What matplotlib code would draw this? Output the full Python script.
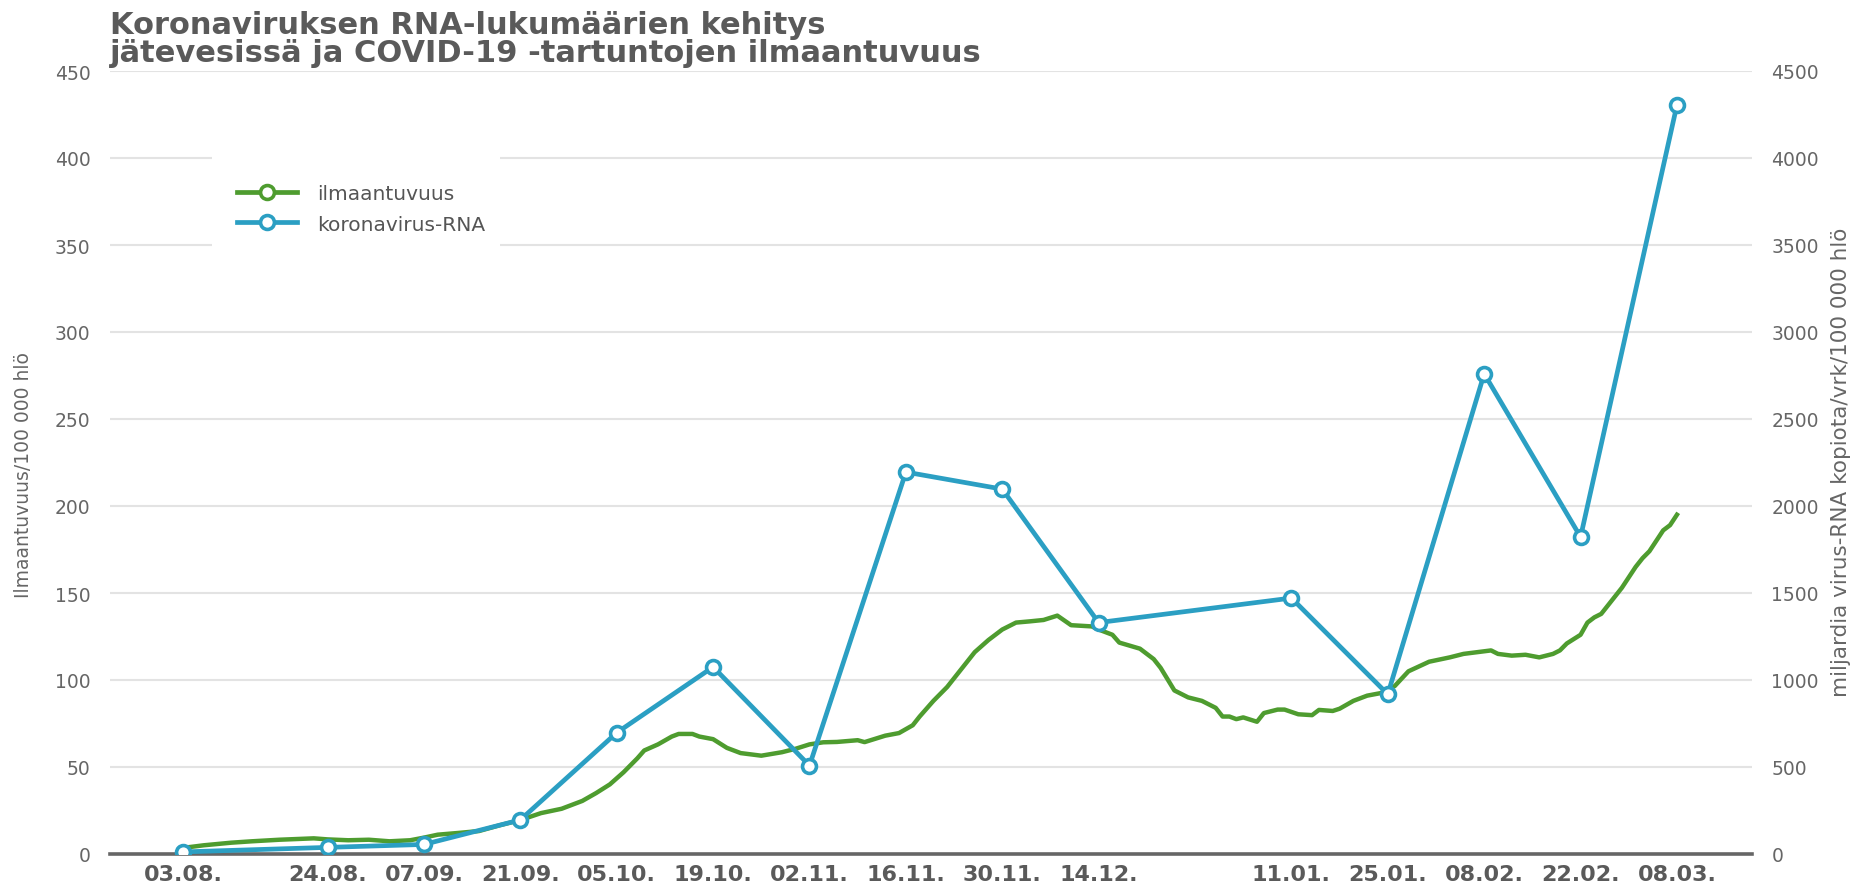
import matplotlib
matplotlib.use("Agg")
import matplotlib.pyplot as plt
from matplotlib.lines import Line2D
from matplotlib.patches import Rectangle
import pandas as pd

# ---------------- data ----------------
rna_dates = ["2020-08-03", "2020-08-24", "2020-09-07", "2020-09-21", "2020-10-05",
             "2020-10-19", "2020-11-02", "2020-11-16", "2020-11-30", "2020-12-14",
             "2021-01-11", "2021-01-25", "2021-02-08", "2021-02-22", "2021-03-08"]
rna_values = [12, 38, 55, 196, 697, 1075, 508, 2195, 2097, 1330, 1471, 918, 2760, 1822, 4305]

ilm_days = [0, 3, 7, 10, 14, 19, 21, 24, 27, 30, 33, 35, 37, 40, 43, 46, 49, 52, 55, 58,
            60, 62, 64, 66, 67, 69, 71, 72, 74, 75, 77, 79, 81, 84, 87, 89, 91, 93, 95, 98,
            99, 102, 104, 106, 107, 109, 111, 113, 115, 117, 119, 121, 123, 125, 127, 129,
            132, 133, 135, 136, 139, 141, 142, 144, 146, 148, 150, 151, 152, 153, 154, 156,
            157, 159, 160, 162, 164, 165, 167, 168, 170, 172, 174, 176, 178, 181, 184, 186,
            188, 190, 191, 193, 195, 197, 199, 200, 201, 203, 204, 205, 206, 207, 208, 209,
            211, 212, 213, 214, 215, 216, 217]
ilm_values = [3.5, 5, 6.5, 7.3, 8.2, 9.0, 8.4, 7.9, 8.2, 7.3, 7.9, 9.4, 11.1, 12.1, 13.2, 16.5,
              19.5, 23.5, 26, 30.5, 35, 40, 47, 55, 59.5, 63, 67.5, 69, 69, 67.5, 66, 61, 58,
              56.5, 58.5, 60.5, 63, 64.2, 64.4, 65.4, 64.3, 68, 69.5, 74, 79, 88, 96, 106, 116,
              123, 129, 133, 133.7, 134.5, 137, 131.5, 130.8, 129, 126, 121.5, 118, 112, 107,
              94, 90, 88, 84, 79, 79, 77.5, 78.5, 76, 81, 83, 83, 80.3, 79.8, 82.8, 82.2, 83.5,
              88, 91, 92.5, 96.5, 105, 110.5, 113, 115, 116, 117, 115, 114, 114.5, 113, 115,
              117, 121, 126, 133, 136, 138, 143, 148, 153, 165, 170, 174, 180, 186, 189, 195]
ilm_start = "2020-08-03"

tick_dates = ["2020-08-03", "2020-08-24", "2020-09-07", "2020-09-21", "2020-10-05",
              "2020-10-19", "2020-11-02", "2020-11-16", "2020-11-30", "2020-12-14",
              "2021-01-11", "2021-01-25", "2021-02-08", "2021-02-22", "2021-03-08"]
tick_labels = ["03.08.", "24.08.", "07.09.", "21.09.", "05.10.", "19.10.", "02.11.",
               "16.11.", "30.11.", "14.12.", "11.01.", "25.01.", "08.02.", "22.02.", "08.03."]

left_ticks = [0, 50, 100, 150, 200, 250, 300, 350, 400, 450]
right_ticks = [0, 500, 1000, 1500, 2000, 2500, 3000, 3500, 4000, 4500]

title = "Koronaviruksen RNA-lukumäärien kehitys\njätevesissä ja COVID-19 -tartuntojen ilmaantuvuus"
ylabel_left = "Ilmaantuvuus/100 000 hlö"
ylabel_right = "miljardia virus-RNA kopiota/vrk/100 000 hlö"
legend_labels = ["ilmaantuvuus", "koronavirus-RNA"]

# ---------------- style ----------------
GREEN = "#4e9c2f"
BLUE = "#2b9fc3"
GRID = "#e3e3e3"
TXT = "#666666"
DARK = "#5a5a5a"

plt.rcParams['font.family'] = ['DejaVu Sans']

W, H = 1856, 887
AX_L, AX_R, AX_B, AX_T = 110, 1752, 855, 72
fig = plt.figure(figsize=(W / 100, H / 100), dpi=100)
ax = fig.add_axes([AX_L / W, (H - AX_B) / H, (AX_R - AX_L) / W, (AX_B - AX_T) / H])
ax2 = ax.twinx()


def ax_x(px):
    return (px - AX_L) / (AX_R - AX_L)


def ax_y(py):
    return (AX_B - py) / (AX_B - AX_T)


ilm_x = pd.Timestamp(ilm_start) + pd.to_timedelta(ilm_days, unit="D")
rna_x = pd.to_datetime(rna_dates)

ax.plot(ilm_x, ilm_values, color=GREEN, lw=3.2, solid_joinstyle="round", zorder=3)
ax2.plot(rna_x, rna_values, color=BLUE, lw=3.4, marker="o", markersize=10,
         markerfacecolor="white", markeredgecolor=BLUE, markeredgewidth=2.6, zorder=4)

x0 = pd.Timestamp("2020-08-03") - pd.Timedelta(days=10.6)
x1 = pd.Timestamp("2021-03-08") + pd.Timedelta(days=10.9)
ax.set_xlim(x0, x1)
ax.set_ylim(0, 450)
ax2.set_ylim(0, 4500)

ax.set_yticks(left_ticks)
ax2.set_yticks(right_ticks)
ax.set_xticks(pd.to_datetime(tick_dates))
ax.set_xticklabels(tick_labels, fontsize=16, fontweight="bold", color=DARK)

ax.yaxis.grid(True, color=GRID, lw=1.5)
ax.set_axisbelow(True)
for a in (ax, ax2):
    for s in a.spines.values():
        s.set_visible(False)
ax.spines["bottom"].set_visible(True)
ax.spines["bottom"].set_color("#666666")
ax.spines["bottom"].set_linewidth(2.6)
ax.spines["bottom"].set_zorder(5)

ax.tick_params(axis="y", length=0, pad=14, labelsize=13.5, labelcolor=TXT)
ax2.tick_params(axis="y", length=0, pad=14, labelsize=13.5, labelcolor=TXT)
ax.tick_params(axis="x", length=0, pad=7)

ax.set_ylabel(ylabel_left, fontsize=13.5, color=TXT)
ax.yaxis.set_label_coords(ax_x(33), ax_y(475))
ax2.set_ylabel(ylabel_right, fontsize=15.5, color=TXT)
ax2.yaxis.set_label_coords(ax_x(1831), ax_y(462))

# white box behind legend (interrupts gridlines)
ax.add_patch(Rectangle((ax_x(212), ax_y(285)), ax_x(500) - ax_x(212), ax_y(135) - ax_y(285),
                       transform=ax.transAxes, facecolor="white", edgecolor="none", zorder=1))

handles = [Line2D([], [], color=GREEN, lw=3.4, marker="o", markersize=10,
                  markerfacecolor="white", markeredgecolor=GREEN, markeredgewidth=2.6),
           Line2D([], [], color=BLUE, lw=3.4, marker="o", markersize=10,
                  markerfacecolor="white", markeredgecolor=BLUE, markeredgewidth=2.6)]
leg = ax2.legend(handles, legend_labels, loc="center left",
                 bbox_to_anchor=(ax_x(237), ax_y(210)),
                 frameon=False, fontsize=14.5, labelcolor="#555555",
                 handlelength=3.0, handletextpad=1.0, borderpad=0,
                 labelspacing=0.55, borderaxespad=0)
leg.set_zorder(10)

fig.text(AX_L / W, 1 - 11 / H, title, fontsize=22, fontweight="bold", color=DARK,
         ha="left", va="top", linespacing=0.97)

fig.savefig("out.png", dpi=100, facecolor="white")
